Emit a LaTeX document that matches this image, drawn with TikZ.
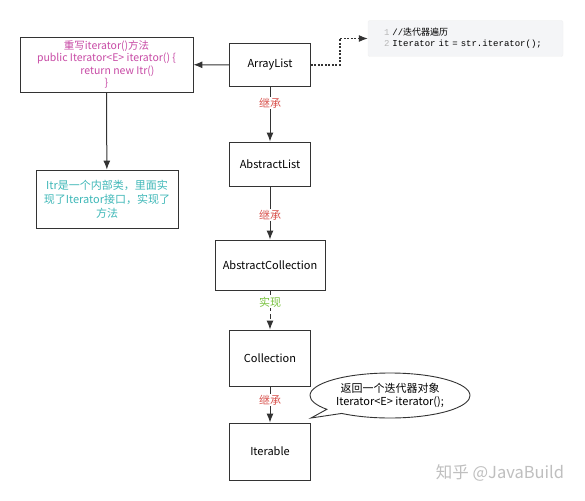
\documentclass[tikz,border=0pt]{standalone}
\usepackage{fontspec}
\setmainfont{Noto Sans CJK SC}
\newfontfamily\codefont{Liberation Mono}
\newfontfamily\cjk{Noto Sans CJK SC}
\usetikzlibrary{arrows.meta,shapes,shapes.callouts}
\definecolor{linegray}{HTML}{333333}
\definecolor{pinktext}{HTML}{C84BA6}
\definecolor{tealtext}{HTML}{3FB8B8}
\definecolor{redtext}{HTML}{D9544F}
\definecolor{greentext}{HTML}{78C23E}
\definecolor{codebg}{HTML}{F4F5F7}
\definecolor{numgray}{HTML}{B8B8B8}
\tikzstyle{cls}=[
	draw=linegray,
	line width=0.9pt,
	fill=white,
	inner sep=0pt,
	minimum width=81pt
]
\tikzstyle{note}=[
	cls,
	align=center
]
\tikzstyle{edge}=[
	-{Latex[length=9pt,width=7pt]},
	draw=linegray,
	line width=1pt
]
\tikzstyle{rel}=[
	fill=white,
	inner sep=1pt,
	font=\fontsize{11}{12}\selectfont
]

\begin{document}
\begin{tikzpicture}[x=1pt, y=-1pt, every node/.style={font=\fontsize{11}{13.5}\selectfont}]
\useasboundingbox[fill=white] (0,0) rectangle (585,500);

% class chain
\node[cls, minimum height=43pt] at (270,65) (arraylist) {ArrayList};
\node[cls, minimum height=44pt] at (270,164) (abslist) {AbstractList};
\node[cls, minimum width=110pt, minimum height=50pt] at (270,265) (abscoll) {AbstractCollection};
\node[cls, minimum height=56pt] at (270,358) (coll) {Collection};
\node[cls, minimum height=57pt] at (270,451.5) (iterable) {Iterable};

\draw[edge] (arraylist) -- node[rel, pos=0.3, text=redtext] {继承} (abslist);
\draw[edge] (abslist) -- node[rel, pos=0.54, text=redtext] {继承} (abscoll);
\draw[edge, dash pattern=on 5pt off 3pt] (abscoll) -- node[rel, pos=0.3, text=greentext] {实现} (coll);
\draw[edge] (coll) -- node[rel, pos=0.38, text=redtext] {继承} (iterable);

% notes on the left
\node[note, minimum width=173pt, minimum height=55pt, text=pinktext, font=\fontsize{10.5}{12.6}\selectfont] at (106.5,64.5) (override)
	{重写iterator()方法\\public Iterator<E> iterator() \{\\\hspace*{22pt}return new Itr()\\\}};
\node[note, minimum width=142pt, minimum height=58pt, text=tealtext, font=\fontsize{11}{14}\selectfont] at (107,199) (itr)
	{Itr是一个内部类，里面实\\现了Iterator接口，实现了\\方法};

\draw[edge] (arraylist) -- (override);
\draw[edge] (override.south) -- (itr);

% code snippet
\node[rounded corners=2pt, fill=codebg, draw=black!6, minimum width=195pt, minimum height=36pt,
	inner xsep=16pt, text width=163pt, align=left, font=\codefont\fontsize{9}{11}\selectfont] at (465.5,38.5) (code)
	{\textcolor{numgray}{1} //{\cjk 迭代器遍历}\\\textcolor{numgray}{2} Iterator it = str.iterator();};
\draw[-{Latex[length=9pt,width=7pt]}, draw=linegray, line width=1.1pt, dash pattern=on 2pt off 1.5pt] (arraylist.east) -- ++(29,0) |- (code.west);

% callout
\node[ellipse callout, draw=linegray, line width=0.9pt, fill=white, minimum width=160pt, minimum height=45pt,
	inner sep=0pt, align=center, callout absolute pointer={(311,418)}] at (390,395.5) (ret)
	{返回一个迭代器对象\\Iterator<E> iterator();};

% watermark
\node[text=black!25, font=\fontsize{16.5}{18}\selectfont] at (500,473) (mark) {知乎 @JavaBuild};
\end{tikzpicture}
\end{document}
